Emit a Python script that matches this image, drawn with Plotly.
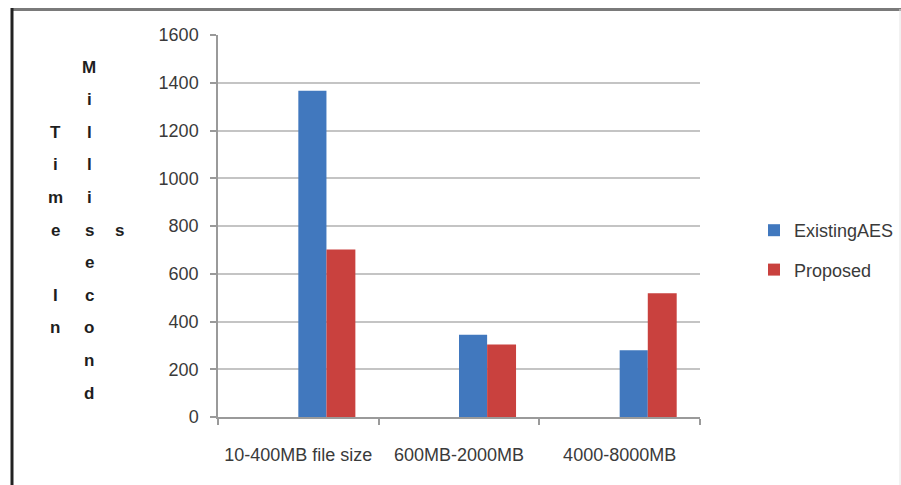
import plotly.graph_objects as go

# ---- data ----
categories = ["10-400MB file size", "600MB-2000MB", "4000-8000MB"]
existing_aes = [1367, 345, 280]
proposed = [702, 304, 518]
series_names = ["ExistingAES", "Proposed"]
y_ticks = [0, 200, 400, 600, 800, 1000, 1200, 1400, 1600]
title_columns = ["Time In", "Millisecond", "s"]

# ---- layout constants (pixels) ----
W, H = 901, 485
L, R, T, B = 218, 700, 35, 417
PW, PH = R - L, B - T

def px_x(px):
    return (px - L) / PW

def px_y(py):
    return (B - py) / PH

FONT = "Liberation Sans, Arial, sans-serif"
BLUE = "#4178BE"
RED = "#C9413E"

fig = go.Figure()
fig.add_trace(go.Bar(
    x=categories, y=existing_aes, name=series_names[0],
    marker=dict(color=BLUE, line=dict(width=0)),
    offset=0.0, width=0.175, legendgroup="a",
))
fig.add_trace(go.Bar(
    x=categories, y=proposed, name=series_names[1],
    marker=dict(color=RED, line=dict(width=0)),
    offset=0.175, width=0.18, legendgroup="b",
))

# stacked-letter y-axis title
col_x = [55, 89, 119]
center_y = 230
pitch = 32.6
annotations = []
for cx, text in zip(col_x, title_columns):
    n = len(text)
    for i, ch in enumerate(text):
        if ch == " ":
            continue
        py = center_y + (i - (n - 1) / 2) * pitch
        annotations.append(dict(
            text=ch, xref="paper", yref="paper",
            x=px_x(cx), y=px_y(py), xanchor="center", yanchor="middle",
            showarrow=False,
            font=dict(family=FONT, size=17, color="#1e1e1e", weight="bold"),
        ))

# outer frame of the screenshot
shapes = [
    dict(type="line", xref="paper", yref="paper",
         x0=px_x(11), x1=px_x(901), y0=px_y(9.5), y1=px_y(9.5),
         line=dict(color="#7a7a7a", width=3)),
    dict(type="line", xref="paper", yref="paper",
         x0=px_x(12), x1=px_x(12), y0=px_y(8), y1=px_y(485),
         line=dict(color="#222222", width=3)),
    dict(type="line", xref="paper", yref="paper",
         x0=px_x(900), x1=px_x(900), y0=px_y(9), y1=px_y(485),
         line=dict(color="#e4e4e4", width=1)),
]

fig.update_layout(
    width=W, height=H, autosize=False,
    margin=dict(l=L, r=W - R, t=T, b=H - B, pad=0, autoexpand=False),
    paper_bgcolor="white", plot_bgcolor="white",
    barmode="overlay",
    font=dict(family=FONT, size=18, color="#3a3a3a"),
    showlegend=True,
    legend=dict(
        x=px_x(754), y=px_y(250), xanchor="left", yanchor="middle",
        font=dict(family=FONT, size=18, color="#3a3a3a"),
        traceorder="grouped", tracegroupgap=13,
        bgcolor="rgba(0,0,0,0)",
    ),
    xaxis=dict(
        type="category", range=[-0.5, 2.5], automargin=False, tickangle=0,
        showline=True, linecolor="#9a9a9a", linewidth=1.5,
        ticks="outside", tickson="boundaries", ticklen=6, tickcolor="#9a9a9a",
        tickwidth=1.5, showgrid=False, ticklabelstandoff=21,
        tickfont=dict(family=FONT, size=18, color="#3a3a3a"),
        fixedrange=True,
    ),
    yaxis=dict(
        range=[0, 1600], tickvals=y_ticks, automargin=False,
        showline=True, linecolor="#9a9a9a", linewidth=1.5,
        ticks="outside", ticklen=6, tickcolor="#9a9a9a", tickwidth=1.5,
        showgrid=True, gridcolor="#c4c4c4", gridwidth=1.5,
        zeroline=False, ticklabelstandoff=8,
        tickfont=dict(family=FONT, size=18, color="#3a3a3a"),
        fixedrange=True,
    ),
    annotations=annotations,
    shapes=shapes,
)

fig.write_html(
    "out.html",
    config={"displayModeBar": False, "responsive": False},
    post_script="document.body.style.margin='0';",
)
